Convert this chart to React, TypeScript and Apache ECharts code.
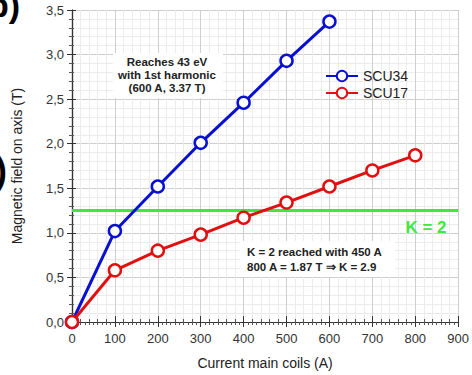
import React, { useEffect, useRef } from "react";
import * as echarts from "echarts";

const currents34 = [0, 100, 200, 300, 400, 500, 600];
const field34 = [0, 1.02, 1.52, 2.01, 2.46, 2.93, 3.37];
const currents17 = [0, 100, 200, 300, 400, 500, 600, 700, 800];
const field17 = [0, 0.58, 0.8, 0.98, 1.17, 1.34, 1.52, 1.7, 1.87];
const kLevel = 1.25;
const xRange = [0, 900];
const yRange = [0, 3.5];
const seriesNames = ["SCU34", "SCU17"];
const note1 = ["Reaches 43 eV", "with 1st harmonic", "(600 A, 3.37 T)"];
const note2 = ["K = 2 reached with 450 A", "800 A = 1.87 T \u21D2 K = 2.9"];

const FONT = "Liberation Sans, Arial, sans-serif";
const BLUE = "#0a10d0";
const RED = "#e01010";
const GREEN = "#3ee83e";

export default function App() {
  const ref = useRef<HTMLDivElement>(null);
  useEffect(() => {
    const chart = echarts.init(ref.current!, null, { renderer: "svg" });
    const baseX = {
      type: "value",
      min: xRange[0],
      max: xRange[1],
      interval: 100,
    };
    const baseY = {
      type: "value",
      min: yRange[0],
      max: yRange[1],
      interval: 0.5,
    };
    const hidden = {
      axisLabel: { show: false },
      splitLine: { show: false },
    };
    chart.setOption({
      animation: false,
      backgroundColor: "#ffffff",
      textStyle: { fontFamily: FONT },
      grid: { left: 72, right: 8, top: 10, bottom: 50, containLabel: false },
      xAxis: [
        {
          ...baseX,
          position: "bottom",
          name: "Current main coils (A)",
          nameLocation: "middle",
          nameGap: 34,
          nameTextStyle: { fontSize: 14, color: "#222", fontFamily: FONT },
          axisLine: { show: true, lineStyle: { color: "#333", width: 1.2 } },
          axisTick: { show: true, inside: true, length: 6, lineStyle: { color: "#333" } },
          minorTick: { show: true, splitNumber: 5, length: 3, lineStyle: { color: "#555" } },
          axisLabel: { color: "#333", fontSize: 13, margin: 10, fontFamily: FONT },
          splitLine: { show: true, lineStyle: { color: "#cfcfcf", width: 1 } },
          minorSplitLine: { show: true, lineStyle: { color: "#ececec", width: 1 } },
        },
        {
          ...baseX,
          position: "top",
          ...hidden,
          axisLine: { show: true, lineStyle: { color: "#333", width: 1.2 } },
          axisTick: { show: true, inside: true, length: 5, lineStyle: { color: "#333" } },
          minorTick: { show: true, splitNumber: 10, length: 3, lineStyle: { color: "#555" } },
        },
      ],
      yAxis: [
        {
          ...baseY,
          position: "left",
          name: "Magnetic field on axis (T)",
          nameLocation: "middle",
          nameGap: 48,
          nameTextStyle: { fontSize: 14, color: "#222", fontFamily: FONT },
          axisLine: { show: true, lineStyle: { color: "#333", width: 1.2 } },
          axisTick: { show: true, inside: false, length: 5, lineStyle: { color: "#333" } },
          minorTick: { show: true, splitNumber: 5, length: 3, lineStyle: { color: "#555" } },
          axisLabel: {
            color: "#333",
            fontSize: 13,
            margin: 8,
            fontFamily: FONT,
            formatter: (v: number) => v.toFixed(1).replace(".", ","),
          },
          splitLine: { show: true, lineStyle: { color: "#cfcfcf", width: 1 } },
          minorSplitLine: { show: true, lineStyle: { color: "#ececec", width: 1 } },
        },
        {
          ...baseY,
          position: "right",
          ...hidden,
          axisLine: { show: true, lineStyle: { color: "#333", width: 1.2 } },
          axisTick: { show: true, inside: false, length: 4, lineStyle: { color: "#333" } },
          minorTick: { show: true, splitNumber: 5, length: 2, lineStyle: { color: "#555" } },
        },
      ],
      legend: {
        orient: "vertical",
        left: 320,
        top: 64,
        itemGap: 3,
        itemWidth: 32,
        itemHeight: 13,
        textStyle: { fontSize: 14, color: "#222", fontFamily: FONT },
        data: seriesNames,
      },
      series: [
        {
          name: "K=2",
          type: "line",
          data: [
            [xRange[0], kLevel],
            [xRange[1], kLevel],
          ],
          symbol: "none",
          lineStyle: { color: GREEN, width: 3 },
          z: 2,
          silent: true,
        },
        {
          name: seriesNames[0],
          type: "line",
          data: currents34.map((c, i) => [c, field34[i]]),
          symbol: "circle",
          symbolSize: 12,
          color: BLUE,
          lineStyle: { color: BLUE, width: 3 },
          itemStyle: { color: "#ffffff", borderColor: BLUE, borderWidth: 2.5 },
          z: 3,
        },
        {
          name: seriesNames[1],
          type: "line",
          data: currents17.map((c, i) => [c, field17[i]]),
          symbol: "circle",
          symbolSize: 12,
          color: RED,
          lineStyle: { color: RED, width: 3 },
          itemStyle: { color: "#ffffff", borderColor: RED, borderWidth: 2.5 },
          z: 4,
        },
      ],
      graphic: [
        { type: "rect", shape: { x: 113, y: 53, width: 110, height: 45 }, style: { fill: "#ffffff" }, z: 1 },
        {
          type: "text",
          x: 167,
          y: 75,
          z: 10,
          style: {
            text: note1.join("\n"),
            fill: "#222",
            font: `bold 11.5px ${FONT}`,
            align: "center",
            verticalAlign: "middle",
            lineHeight: 13,
          },
        },
        { type: "rect", shape: { x: 240, y: 241, width: 155, height: 36 }, style: { fill: "#ffffff" }, z: 1 },
        {
          type: "text",
          x: 247,
          y: 259.5,
          z: 10,
          style: {
            text: note2.join("\n"),
            fill: "#222",
            font: `bold 11.5px ${FONT}`,
            align: "left",
            verticalAlign: "middle",
            lineHeight: 15,
          },
        },
        {
          type: "text",
          x: 426,
          y: 227,
          z: 10,
          style: {
            text: "K = 2",
            fill: GREEN,
            font: `bold 17px ${FONT}`,
            align: "center",
            verticalAlign: "middle",
          },
        },
        {
          type: "text",
          x: 20,
          y: 22,
          z: 10,
          style: {
            text: "b)",
            fill: "#000",
            font: `bold 34px ${FONT}`,
            align: "right",
            verticalAlign: "bottom",
          },
        },
        {
          type: "text",
          x: 7,
          y: 170,
          z: 10,
          style: {
            text: ")",
            fill: "#000",
            font: `bold 36px ${FONT}`,
            align: "right",
            verticalAlign: "middle",
          },
        },
      ],
    });
    return () => chart.dispose();
  }, []);
  return (
    <div style={{ position: "fixed", left: 0, top: 0, width: 472, height: 375 }}>
      <div ref={ref} style={{ width: 472, height: 375 }} />
    </div>
  );
}
